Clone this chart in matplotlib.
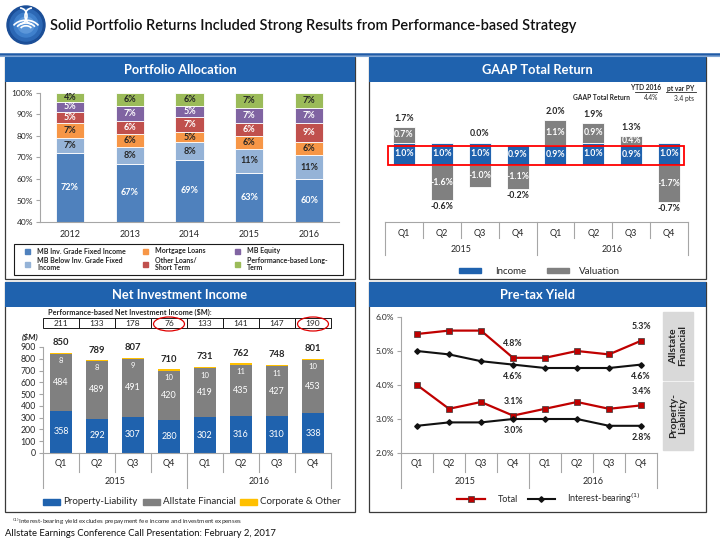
import numpy as np
import matplotlib
matplotlib.use('Agg')
import matplotlib.pyplot as plt
from matplotlib.patches import Rectangle, Ellipse, Circle, Arc

plt.rcParams['font.family'] = ['Lato', 'DejaVu Sans']

# ---- Portfolio Allocation ----
pa_years = ['2012', '2013', '2014', '2015', '2016']
pa_names = ['MB Inv. Grade Fixed Income', 'MB Below Inv. Grade Fixed\nIncome',
            'Mortgage Loans', 'Other Loans/\nShort Term', 'MB Equity',
            'Performance-based Long-\nTerm']
pa_inv_grade = [72, 67, 69, 63, 60]
pa_below_grade = [7, 8, 8, 11, 11]
pa_mortgage = [7, 6, 5, 6, 6]
pa_other_loans = [5, 6, 7, 6, 9]
pa_equity = [5, 7, 5, 7, 7]
pa_perf = [4, 6, 6, 7, 7]

# ---- quarters shared by the other three charts ----
quarters = ['Q1', 'Q2', 'Q3', 'Q4', 'Q1', 'Q2', 'Q3', 'Q4']
q_years = ['2015', '2016']

# ---- GAAP Total Return (%) ----
gaap_income = [1.0, 1.0, 1.0, 0.9, 0.9, 1.0, 0.9, 1.0]
gaap_valuation = [0.7, -1.6, -1.0, -1.1, 1.1, 0.9, 0.4, -1.7]
gaap_total = [1.7, -0.6, 0.0, -0.2, 2.0, 1.9, 1.3, -0.7]

# ---- Net Investment Income ($M) ----
nii_pl = [358, 292, 307, 280, 302, 316, 310, 338]
nii_af = [484, 489, 491, 420, 419, 435, 427, 453]
nii_corp = [8, 8, 9, 10, 10, 11, 11, 10]
nii_total = [850, 789, 807, 710, 731, 762, 748, 801]
nii_perf_based = [211, 133, 178, 76, 133, 141, 147, 190]
nii_circled = [3, 7]

# ---- Pre-tax Yield (%) ----
yld_af_total = [5.5, 5.6, 5.6, 4.8, 4.8, 5.0, 4.9, 5.3]
yld_af_ib = [5.0, 4.9, 4.7, 4.6, 4.5, 4.5, 4.5, 4.6]
yld_pl_total = [4.0, 3.3, 3.5, 3.1, 3.3, 3.5, 3.3, 3.4]
yld_pl_ib = [2.8, 2.9, 2.9, 3.0, 3.0, 3.0, 2.8, 2.8]
yld_labelled = [3, 7]

BLUE = '#1F62AE'
GREY = '#808080'
AX_GREY = '#A6A6A6'
TXT = '#262626'
W, H = 720, 540

fig = plt.figure(figsize=(7.2, 5.4), dpi=100)
bg = fig.add_axes([0, 0, 1, 1])
bg.set_xlim(0, W)
bg.set_ylim(H, 0)
bg.axis('off')


def px_axes(rect):
    x0, y0, x1, y1 = rect
    ax = fig.add_axes([x0 / W, 1 - y1 / H, (x1 - x0) / W, (y1 - y0) / H])
    ax.set_facecolor('none')
    return ax


def fy(rect, py):
    # pixel row -> axes fraction of the given axes rect
    return (rect[3] - py) / (rect[3] - rect[1])


def quarter_axis(ax, rect, base, q_end, yr_end, q_txt, yr_txt, fs=6.5):
    tr = ax.get_xaxis_transform()
    n = len(quarters)
    ax.plot([-0.5, n - 0.5], [fy(rect, base)] * 2, color=AX_GREY, lw=0.8,
            transform=tr, clip_on=False)
    for i in range(n + 1):
        end = yr_end if i % 4 == 0 else q_end
        ax.plot([i - 0.5, i - 0.5], [fy(rect, base), fy(rect, end)], color=AX_GREY,
                lw=0.8, transform=tr, clip_on=False)
    for i, q in enumerate(quarters):
        ax.text(i, fy(rect, q_txt), q, transform=tr, ha='center', va='center',
                fontsize=fs, color=TXT, clip_on=False)
    for j, yr in enumerate(q_years):
        ax.text(j * 4 + 1.5, fy(rect, yr_txt), yr, transform=tr, ha='center',
                va='center', fontsize=fs, color=TXT, clip_on=False)


def clean(ax):
    for s in ['top', 'right']:
        ax.spines[s].set_visible(False)


# ---------------- slide frame ----------------
for r, c in [(19, '#1B4E97'), (16, '#2C68B5'), (12, '#3F80CC'), (8, '#5C97DA')]:
    bg.add_patch(Circle((26, 25), r, color=c, zorder=2))
for rr in [6, 10, 14]:
    bg.add_patch(Arc((26, 30), rr * 2, rr * 1.4, theta1=200, theta2=340,
                     color='white', lw=1.2, zorder=3))
bg.add_patch(Arc((20, 16), 14, 16, theta1=270, theta2=90, color='white', lw=1.2, zorder=3))
bg.add_patch(Arc((32, 16), 14, 16, theta1=90, theta2=270, color='white', lw=1.2, zorder=3))
bg.text(50, 26, 'Solid Portfolio Returns Included Strong Results from Performance-based Strategy',
        fontsize=10.5, fontweight='semibold', color='#111111', va='center', ha='left')
bg.plot([0, W], [53.5, 53.5], color='#1F5AA6', lw=1.8)
bg.plot([0, W], [56, 56], color='#7FA6D6', lw=0.8)

panels = [((5, 57, 355, 279), 'Portfolio Allocation'),
          ((369, 57, 706, 279), 'GAAP Total Return'),
          ((5, 282, 355, 512), 'Net Investment Income'),
          ((369, 282, 706, 512), 'Pre-tax Yield')]
for (x0, y0, x1, y1), title in panels:
    bg.add_patch(Rectangle((x0, y0), x1 - x0, y1 - y0, fill=False, ec='#3A3A3A', lw=0.9))
    bg.add_patch(Rectangle((x0, y0), x1 - x0, 25, color=BLUE, lw=0))
    bg.text((x0 + x1) / 2, y0 + 13, title, color='white', fontsize=9.3,
            fontweight='bold', ha='center', va='center')

# ---------------- Portfolio Allocation ----------------
pa_series = [pa_inv_grade, pa_below_grade, pa_mortgage, pa_other_loans, pa_equity, pa_perf]
pa_colors = ['#4F81BD', '#95B3D7', '#F79646', '#C0504D', '#8064A2', '#9BBB59']
pa_txt = ['white', TXT, TXT, 'white', 'white', TXT]
rect_pa = (40, 93, 339, 222)
ax = px_axes(rect_pa)
x = np.arange(len(pa_years))
bottom = np.zeros(len(pa_years))
for vals, col, tc in zip(pa_series, pa_colors, pa_txt):
    vals = np.array(vals, dtype=float)
    ax.bar(x, vals, 0.47, bottom=bottom, color=col, edgecolor='white', linewidth=0.6)
    for xi, b, v in zip(x, bottom, vals):
        ax.text(xi, (max(b, 40) + b + v) / 2, f'{v:.0f}%', ha='center', va='center',
                color=tc, fontsize=6.5, fontweight='bold')
    bottom += vals
ax.set_xlim(-0.5, 4.5)
ax.set_ylim(40, 100)
ax.set_yticks(range(40, 101, 10))
ax.set_yticklabels([f'{v}%' for v in range(40, 101, 10)])
ax.set_xticks(x)
ax.set_xticklabels(pa_years)
ax.tick_params(axis='y', labelsize=6, length=3, color=AX_GREY, labelcolor=TXT, pad=2)
ax.tick_params(axis='x', labelsize=6.5, length=0, labelcolor=TXT, pad=6)
clean(ax)
ax.spines['left'].set_color(AX_GREY)
ax.spines['bottom'].set_color(AX_GREY)

bg.add_patch(Rectangle((14, 244), 329, 31, fill=False, ec='#1a1a1a', lw=0.8))
leg_cols = [27, 145, 237]
leg_rows = [251, 264]
for k, (name, col) in enumerate(zip(pa_names, pa_colors)):
    cx, cy = leg_cols[k // 2], leg_rows[k % 2]
    bg.add_patch(Rectangle((cx - 2.5, cy - 2.5), 5, 5, color=col))
    bg.text(cx + 10, cy, name, fontsize=5, fontweight='bold', color=TXT,
            va='center', ha='left', linespacing=1.1)

# ---------------- GAAP Total Return ----------------
rect_g = (385, 100, 688, 222)
zero_px, px_per = 164.5, 22.0
ax = px_axes(rect_g)
x = np.arange(len(quarters))
val = np.array(gaap_valuation)
inc = np.array(gaap_income)
ax.bar(x, inc, 0.58, color=BLUE, edgecolor='white', linewidth=0.6, label='Income')
vbottom = np.where(val > 0, inc, 0)
ax.bar(x, val, 0.58, bottom=vbottom, color=GREY, edgecolor='white', linewidth=0.6,
       label='Valuation')
for i in range(len(x)):
    ax.text(i, inc[i] / 2, f'{inc[i]:.1f}%', ha='center', va='center', color='white',
            fontsize=6.3, fontweight='bold')
    ax.text(i, vbottom[i] + val[i] / 2, f'{val[i]:.1f}%', ha='center', va='center',
            color='white', fontsize=6.3, fontweight='bold')
    if gaap_total[i] >= 0:
        ax.annotate(f'{gaap_total[i]:.1f}%', (i, inc[i] + max(val[i], 0)),
                    xytext=(0, 3), textcoords='offset points', ha='center', va='bottom',
                    fontsize=6.3, fontweight='bold', color=TXT)
    else:
        ax.annotate(f'{gaap_total[i]:.1f}%', (i, val[i]), xytext=(0, -1.5),
                    textcoords='offset points', ha='center', va='top',
                    fontsize=6.3, fontweight='bold', color=TXT)
ax.add_patch(Rectangle((-0.42, -0.03), 7.82, 0.86, fill=False, ec='#FF0000', lw=1.3,
                       clip_on=False))
ax.set_xlim(-0.5, 7.5)
ax.set_ylim(-(rect_g[3] - zero_px) / px_per, (zero_px - rect_g[1]) / px_per)
ax.axis('off')
quarter_axis(ax, rect_g, 222, 238, 255, 233, 250, fs=6.5)

bg.add_patch(Rectangle((459, 268), 22, 5, color=BLUE))
bg.text(495, 271, 'Income', fontsize=7, color=TXT, va='center')
bg.add_patch(Rectangle((547, 268), 22, 5, color=GREY))
bg.text(579, 271, 'Valuation', fontsize=7, color=TXT, va='center')

bg.text(646, 88, 'YTD 2016', fontsize=4.8, fontweight='bold', ha='center', va='center', color=TXT)
bg.plot([635, 657], [92, 92], color=TXT, lw=0.6)
bg.text(681, 88, 'pt var PY', fontsize=4.8, fontweight='bold', ha='center', va='center', color=TXT)
bg.plot([666, 696], [92, 92], color=TXT, lw=0.6)
bg.text(630, 98, 'GAAP Total Return', fontsize=4.8, fontweight='bold', ha='right', va='center', color=TXT)
bg.text(651, 98, '4.4%', fontsize=4.8, ha='center', va='center', color=TXT)
bg.text(684, 98, '3.4 pts', fontsize=4.8, ha='center', va='center', color=TXT)

# ---------------- Net Investment Income ----------------
rect_n = (43, 347, 331, 453)
ax = px_axes(rect_n)
x = np.arange(len(quarters))
pl = np.array(nii_pl)
af = np.array(nii_af)
cp = np.array(nii_corp)
ax.bar(x, pl, 0.61, color=BLUE, label='Property-Liability')
ax.bar(x, af, 0.61, bottom=pl, color=GREY, label='Allstate Financial')
ax.bar(x, cp, 0.61, bottom=pl + af, color='#FFC000', label='Corporate & Other')
for i in range(len(x)):
    ax.text(i, pl[i] / 2, str(pl[i]), ha='center', va='center', color='white', fontsize=6.5)
    ax.text(i, pl[i] + af[i] / 2, str(af[i]), ha='center', va='center', color='white', fontsize=6.5)
    ax.annotate(str(cp[i]), (i, pl[i] + af[i]), xytext=(0, -5), textcoords='offset points',
                ha='center', va='center', color='white', fontsize=5.5)
    ax.annotate(str(nii_total[i]), (i, nii_total[i]), xytext=(0, 4), textcoords='offset points',
                ha='center', va='bottom', fontsize=6.8, fontweight='bold', color=TXT)
ax.set_xlim(-0.5, 7.5)
ax.set_ylim(0, 900)
ax.set_yticks(range(0, 901, 100))
ax.tick_params(axis='y', labelsize=6.3, length=3, color=AX_GREY, labelcolor=TXT, pad=2)
ax.set_xticks([])
clean(ax)
ax.spines['bottom'].set_visible(False)
ax.spines['left'].set_color(AX_GREY)
quarter_axis(ax, rect_n, 453, 472, 488, 463, 482, fs=6.5)
ax.text(-0.62, fy(rect_n, 337), '($M)', transform=ax.get_xaxis_transform(), ha='right',
        va='center', fontsize=6, fontweight='bold', fontstyle='italic', color=TXT)

tr = ax.get_xaxis_transform()
bg.text(48, 312, 'Performance-based Net Investment Income ($M):', fontsize=5.3,
        fontweight='bold', va='center', color=TXT)
for i, v in enumerate(nii_perf_based):
    ax.add_patch(Rectangle((i - 0.5, fy(rect_n, 328)), 1, fy(rect_n, 318) - fy(rect_n, 328),
                           fill=False, ec='#1a1a1a', lw=0.7, transform=tr, clip_on=False))
    ax.text(i, fy(rect_n, 323), str(v), transform=tr, ha='center', va='center',
            fontsize=6, color=TXT, clip_on=False)
for i in nii_circled:
    ax.add_patch(Ellipse((i, fy(rect_n, 324)), 0.86, 14 / 106, fill=False, ec='#E00000',
                         lw=0.9, transform=tr, clip_on=False))

for px0, col, name in [(43, BLUE, 'Property-Liability'), (143, GREY, 'Allstate Financial'),
                       (240, '#FFC000', 'Corporate & Other')]:
    bg.add_patch(Rectangle((px0, 499), 17, 6, color=col))
    bg.text(px0 + 20, 502, name, fontsize=7, color=TXT, va='center')

# ---------------- Pre-tax Yield ----------------
rect_y = (401, 317, 657, 453)
ax = px_axes(rect_y)
x = np.arange(len(quarters))
red = '#C00000'
for tot, ib in [(yld_af_total, yld_af_ib), (yld_pl_total, yld_pl_ib)]:
    ax.plot(x, tot, color=red, lw=1.6, marker='s', ms=4.2, mfc=red, mec='#3a3a3a', mew=0.5)
    ax.plot(x, ib, color='#111111', lw=1.5, marker='D', ms=2.8, mfc='#111111', mec='#111111')
    for i in yld_labelled:
        ax.annotate(f'{tot[i]:.1f}%', (i, tot[i]), xytext=(0, 7), textcoords='offset points',
                    ha='center', va='bottom', fontsize=6.3, fontweight='bold', color=TXT)
        ax.annotate(f'{ib[i]:.1f}%', (i, ib[i]), xytext=(0, -5), textcoords='offset points',
                    ha='center', va='top', fontsize=6.3, fontweight='bold', color=TXT)
ax.set_xlim(-0.5, 7.5)
ax.set_ylim(2, 6)
ax.set_yticks([2, 3, 4, 5, 6])
ax.set_yticklabels([f'{v:.1f}%' for v in [2, 3, 4, 5, 6]])
ax.tick_params(axis='y', labelsize=6, length=3, color=AX_GREY, labelcolor=TXT, pad=2)
ax.set_xticks([])
clean(ax)
ax.spines['bottom'].set_visible(False)
ax.spines['left'].set_color(AX_GREY)
quarter_axis(ax, rect_y, 453, 472, 488, 464, 482, fs=6.5)

for (y0, y1), label in [((312, 380), 'Allstate\nFinancial'), ((382, 450), 'Property-\nLiability')]:
    bg.add_patch(Rectangle((663, y0), 30, y1 - y0, color='#D9D9D9'))
    bg.text(678, (y0 + y1) / 2, label, rotation=90, fontsize=7.5, fontweight='bold',
            ha='center', va='center', multialignment='center', color=TXT, linespacing=1.0)

bg.plot([457, 485], [499, 499], color=red, lw=1.6)
bg.plot([471], [499], marker='s', ms=4, color=red, mec='#3a3a3a', mew=0.5)
bg.text(498, 499, 'Total', fontsize=6.5, color=TXT, va='center')
bg.plot([528, 555], [499, 499], color='#111111', lw=1.5)
bg.plot([541], [499], marker='D', ms=2.8, color='#111111')
bg.text(567, 499, r'Interest-bearing$^{(1)}$', fontsize=6.5, color=TXT, va='center')

# ---------------- footer ----------------
bg.text(12, 522, r'$^{(1)}$Interest-bearing yield excludes prepayment fee income and investment expenses',
        fontsize=4.5, color=TXT, va='center')
bg.text(5, 534, 'Allstate Earnings Conference Call Presentation: February 2, 2017',
        fontsize=6.8, color='#111111', va='center')

fig.savefig('out.png', dpi=100)
